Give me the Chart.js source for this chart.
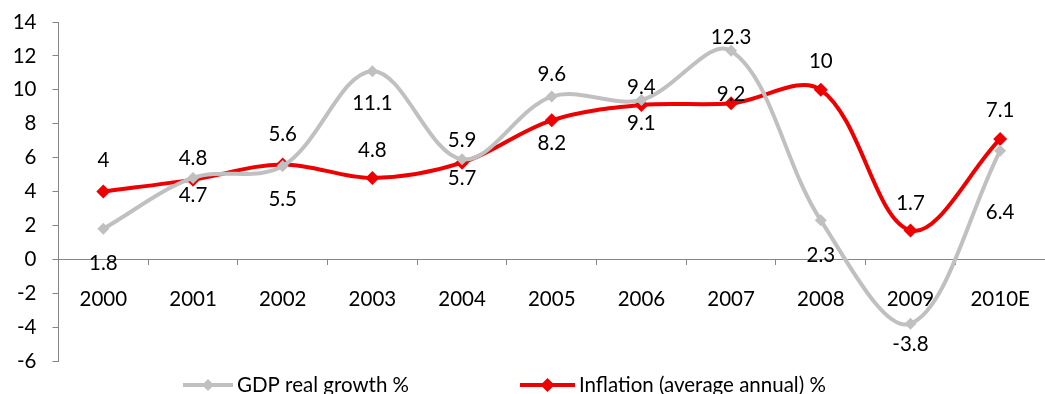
<!DOCTYPE html>
<html>
<head>
<meta charset="utf-8">
<script src="https://cdn.jsdelivr.net/npm/chart.js@4"></script>
<style>
  html, body { margin: 0; padding: 0; background: #fff; overflow: hidden; }
  canvas { display: block; }
</style>
</head>
<body>
<canvas id="gdpChart" width="1052" height="394"></canvas>
<script>
// data
var years = ["2000", "2001", "2002", "2003", "2004", "2005", "2006", "2007", "2008", "2009", "2010E"];
var gdpGrowth = [1.8, 4.8, 5.5, 11.1, 5.9, 9.6, 9.4, 12.3, 2.3, -3.8, 6.4];
var inflation = [4, 4.7, 5.6, 4.8, 5.7, 8.2, 9.1, 9.2, 10, 1.7, 7.1];
var yTicks = [-6, -4, -2, 0, 2, 4, 6, 8, 10, 12, 14];

// vertical shift of each value label from its point (px, negative = above)
var gdpLabelShift = [35, -20, 33, 32, -19, -22, -13, -13, 35, 21, 62];
var inflLabelShift = [-31, 16, -30, -28, 16, 23, 18, -9, -28, -27, -29];

var FONT = "Lato, 'Open Sans', sans-serif";
var FONT_SIZE = 20.5;
var GREY = "rgb(192,192,192)";
var RED = "rgb(238,0,0)";
var AXIS = "rgb(134,134,134)";

var valueLabels = {
  id: "valueLabels",
  afterDatasetsDraw: function(chart) {
    var ctx = chart.ctx;
    var shifts = [gdpLabelShift, inflLabelShift];
    ctx.save();
    ctx.font = FONT_SIZE + "px " + FONT;
    ctx.fillStyle = "#000";
    ctx.textAlign = "center";
    ctx.textBaseline = "middle";
    chart.data.datasets.forEach(function(ds, i) {
      chart.getDatasetMeta(i).data.forEach(function(pt, j) {
        ctx.fillText(String(ds.data[j]), pt.x, pt.y + shifts[i][j]);
      });
    });
    ctx.restore();
  }
};

var bottomLegend = {
  id: "bottomLegend",
  afterDraw: function(chart) {
    var ctx = chart.ctx;
    var items = [
      { x: 183, w: 50, r: 6, color: GREY, text: chart.data.datasets[0].label },
      { x: 520, w: 55, r: 7, color: RED, text: chart.data.datasets[1].label }
    ];
    var y = 385;
    ctx.save();
    ctx.font = FONT_SIZE + "px " + FONT;
    ctx.textBaseline = "middle";
    items.forEach(function(it) {
      ctx.strokeStyle = it.color;
      ctx.lineWidth = 4;
      ctx.beginPath();
      ctx.moveTo(it.x, y);
      ctx.lineTo(it.x + it.w, y);
      ctx.stroke();
      var cx = it.x + it.w / 2;
      ctx.fillStyle = it.color;
      ctx.beginPath();
      ctx.moveTo(cx, y - it.r);
      ctx.lineTo(cx + it.r, y);
      ctx.lineTo(cx, y + it.r);
      ctx.lineTo(cx - it.r, y);
      ctx.closePath();
      ctx.fill();
      ctx.fillStyle = "#000";
      ctx.fillText(it.text, it.x + it.w + 4, y);
    });
    ctx.restore();
  }
};

var ctxL = document.getElementById("gdpChart").getContext("2d");
var myLineChart = new Chart(ctxL, {
  type: "line",
  data: {
    labels: years,
    datasets: [{
      label: "GDP real growth %",
      data: gdpGrowth,
      borderColor: GREY,
      backgroundColor: GREY,
      borderWidth: 4,
      pointStyle: "rectRot",
      pointRadius: 6,
      pointBorderWidth: 0,
      tension: 0.35,
      fill: false
    }, {
      label: "Inflation (average annual) %",
      data: inflation,
      borderColor: RED,
      backgroundColor: RED,
      borderWidth: 4,
      pointStyle: "rectRot",
      pointRadius: 7,
      pointBorderWidth: 0,
      tension: 0.35,
      fill: false
    }]
  },
  options: {
    responsive: false,
    animation: false,
    layout: { padding: { left: 0, right: 1, top: 22, bottom: 33 } },
    plugins: {
      legend: { display: false },
      tooltip: { enabled: false }
    },
    scales: {
      x: {
        position: { y: 0 },
        offset: true,
        grid: { offset: true, drawOnChartArea: false, tickLength: 5, tickColor: AXIS },
        border: { color: AXIS, width: 1 },
        ticks: { color: "#000", font: { family: FONT, size: FONT_SIZE }, padding: 23, maxRotation: 0 },
        afterFit: function(scale) {
          scale.height = 0;
          scale.paddingLeft = 0;
          scale.paddingRight = 0;
        }
      },
      y: {
        min: -6,
        max: 14,
        afterBuildTicks: function(scale) {
          scale.ticks = yTicks.map(function(v) { return { value: v }; });
        },
        grid: { drawOnChartArea: false, tickLength: 6, tickColor: AXIS },
        border: { color: AXIS, width: 1 },
        ticks: { color: "#000", font: { family: FONT, size: FONT_SIZE }, padding: 16 },
        afterFit: function(scale) {
          scale.width = 58.5;
          scale.paddingTop = 0;
          scale.paddingBottom = 0;
        }
      }
    }
  },
  plugins: [valueLabels, bottomLegend]
});
</script>
</body>
</html>
